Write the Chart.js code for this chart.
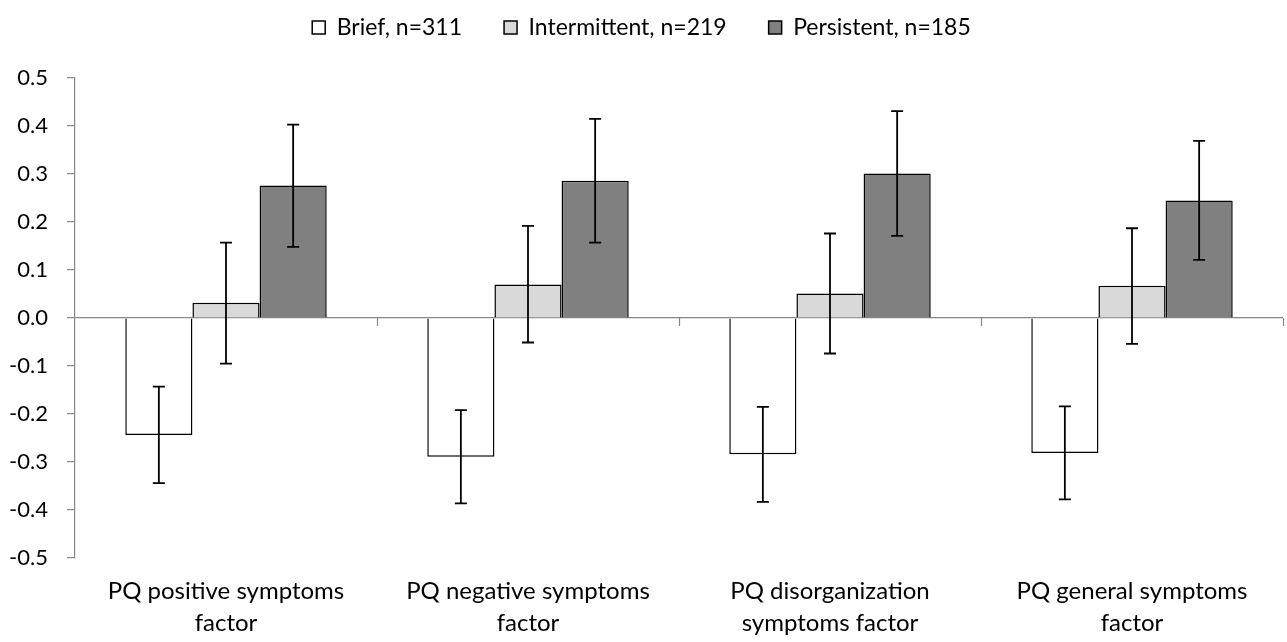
<!DOCTYPE html>
<html>
<head>
<meta charset="utf-8">
<script src="https://cdn.jsdelivr.net/npm/chart.js@4/dist/chart.umd.min.js"></script>
<style>
  html, body { margin: 0; padding: 0; background: #fff; }
  #wrap { width: 1287px; height: 642px; }
</style>
</head>
<body>
<div id="wrap"><canvas id="pqChart" width="1287" height="642"></canvas></div>
<script>
// categories
var categories = [
    ['PQ positive symptoms', 'factor'],
    ['PQ negative symptoms', 'factor'],
    ['PQ disorganization', 'symptoms factor'],
    ['PQ general symptoms', 'factor']
];

// means per group
var briefValues = [-0.244, -0.289, -0.284, -0.281];
var intermittentValues = [0.032, 0.070, 0.051, 0.067];
var persistentValues = [0.276, 0.286, 0.301, 0.245];

// error bar ends (low / high)
var briefLow = [-0.344, -0.386, -0.383, -0.378];
var briefHigh = [-0.143, -0.192, -0.185, -0.184];
var intermittentLow = [-0.095, -0.051, -0.074, -0.054];
var intermittentHigh = [0.157, 0.192, 0.176, 0.187];
var persistentLow = [0.148, 0.157, 0.171, 0.121];
var persistentHigh = [0.403, 0.415, 0.431, 0.369];

var groupLabels = ['Brief, n=311', 'Intermittent, n=219', 'Persistent, n=185'];

var axisGrey = '#868686';
var fontFamily = 'Lato, "Open Sans", sans-serif';

// vẽ thanh sai số
var errorBarPlugin = {
    id: 'errorBars',
    afterDatasetsDraw: function(chart) {
        var ctx = chart.ctx;
        var yScale = chart.scales.y;
        chart.data.datasets.forEach(function(ds, di) {
            var meta = chart.getDatasetMeta(di);
            meta.data.forEach(function(bar, i) {
                var top = yScale.getPixelForValue(ds.errHigh[i]);
                var bottom = yScale.getPixelForValue(ds.errLow[i]);
                ctx.save();
                ctx.strokeStyle = '#000';
                ctx.lineWidth = 1.8;
                ctx.beginPath();
                ctx.moveTo(bar.x, top);
                ctx.lineTo(bar.x, bottom);
                ctx.moveTo(bar.x - 6, top);
                ctx.lineTo(bar.x + 6, top);
                ctx.moveTo(bar.x - 6, bottom);
                ctx.lineTo(bar.x + 6, bottom);
                ctx.stroke();
                ctx.restore();
            });
        });
    }
};

// vạch chia trục x tại đường 0
var zeroTickPlugin = {
    id: 'zeroTicks',
    afterDraw: function(chart) {
        var ctx = chart.ctx;
        var xScale = chart.scales.x;
        var y0 = chart.scales.y.getPixelForValue(0);
        var half = (xScale.getPixelForValue(1) - xScale.getPixelForValue(0)) / 2;
        ctx.save();
        ctx.strokeStyle = axisGrey;
        ctx.lineWidth = 1.2;
        for (var i = 0; i < categories.length; i++) {
            var x = Math.round(xScale.getPixelForValue(i) + half) + 0.5;
            ctx.beginPath();
            ctx.moveTo(x, y0);
            ctx.lineTo(x, y0 + 8);
            ctx.stroke();
        }
        ctx.restore();
    }
};

// thêm khoảng trống dưới chú thích
var legendSpacePlugin = {
    id: 'legendSpace',
    beforeInit: function(chart) {
        var origFit = chart.legend.fit;
        chart.legend.fit = function() {
            origFit.bind(chart.legend)();
            this.height += 29;
        };
    }
};

var ctx = document.getElementById('pqChart').getContext('2d');
new Chart(ctx, {
    type: 'bar',
    data: {
        labels: categories,
        datasets: [
            {
                label: groupLabels[0],
                data: briefValues,
                errLow: briefLow,
                errHigh: briefHigh,
                backgroundColor: '#ffffff',
                borderColor: '#000000',
                borderWidth: 1.5
            },
            {
                label: groupLabels[1],
                data: intermittentValues,
                errLow: intermittentLow,
                errHigh: intermittentHigh,
                backgroundColor: '#d9d9d9',
                borderColor: '#000000',
                borderWidth: 1.5
            },
            {
                label: groupLabels[2],
                data: persistentValues,
                errLow: persistentLow,
                errHigh: persistentHigh,
                backgroundColor: '#808080',
                borderColor: '#000000',
                borderWidth: 1.5
            }
        ]
    },
    options: {
        responsive: false,
        animation: false,
        layout: { padding: { top: -26, right: 4, left: 0, bottom: 0 } },
        datasets: {
            bar: { categoryPercentage: 0.667, barPercentage: 1.0 }
        },
        scales: {
            x: {
                grid: { display: false },
                border: { display: false },
                ticks: {
                    color: '#000',
                    font: { family: fontFamily, size: 24, lineHeight: 1.33 },
                    maxRotation: 0,
                    autoSkip: false,
                    padding: 9
                },
                afterFit: function(scale) { scale.height = 84; }
            },
            y: {
                min: -0.5,
                max: 0.5,
                border: { display: true, color: axisGrey, width: 1.2 },
                grid: {
                    drawOnChartArea: true,
                    color: function(c) { return c.tick && Math.abs(c.tick.value) < 1e-9 ? axisGrey : 'rgba(0,0,0,0)'; },
                    tickColor: axisGrey,
                    tickLength: 8,
                    lineWidth: 1.2
                },
                ticks: {
                    stepSize: 0.1,
                    color: '#000',
                    font: { family: fontFamily, size: 22 },
                    padding: 19,
                    callback: function(v) { return (Math.round(v * 10) / 10).toFixed(1); }
                },
                afterFit: function(scale) { scale.width = 75; }
            }
        },
        plugins: {
            legend: {
                display: true,
                position: 'top',
                labels: {
                    color: '#000',
                    font: { family: fontFamily, size: 23 },
                    boxWidth: 13,
                    boxHeight: 13,
                    padding: 42,
                    useBorderRadius: false
                }
            },
            title: { display: false },
            tooltip: { enabled: false }
        }
    },
    plugins: [errorBarPlugin, zeroTickPlugin, legendSpacePlugin]
});
</script>
</body>
</html>
